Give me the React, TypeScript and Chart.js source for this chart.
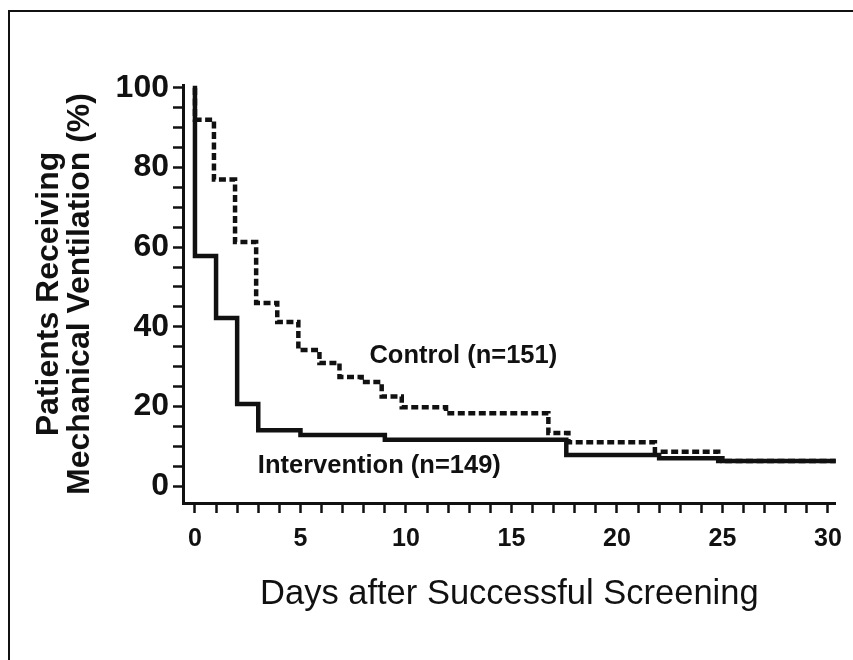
import React, { useEffect, useRef } from "react";
import { Chart, registerables } from "chart.js";

Chart.register(...registerables);

// Kaplan-Meier style step data (day, % still ventilated)
const interventionDays = [0, 0, 1, 2, 3, 5, 9, 17.6, 22, 25, 30.4];
const interventionValues = [100, 57.8, 42.2, 20.6, 14, 12.8, 11.6, 7.8, 7.0, 6.3, 6.3];

const controlDays = [0, 0, 0.9, 1.9, 2.9, 3.9, 4.9, 5.9, 6.85, 7.9, 8.85, 9.8, 11.9, 16.75, 17.7, 21.8, 24.8, 30.4];
const controlValues = [100, 92, 77, 61.3, 46, 41.2, 34.2, 30.9, 27.4, 26.1, 22.5, 19.8, 18.3, 13.3, 11, 8.6, 6.3, 6.3];

const xTickValues = [0, 1, 2, 3, 4, 5, 6, 7, 8, 9, 10, 11, 12, 13, 14, 15, 16, 17, 18, 19, 20, 21, 22, 23, 24, 25, 26, 27, 28, 29, 30];
const xLabelEvery = 5;
const yTickValues = [0, 5, 10, 15, 20, 25, 30, 35, 40, 45, 50, 55, 60, 65, 70, 75, 80, 85, 90, 95, 100];
const yLabelEvery = 20;

const annotationTexts = ["Control (n=151)", "Intervention (n=149)"];
const annotationX = [8.27, 2.98];
const annotationY = [32.7, 5.0];

const FONT = "'Liberation Sans', Arial, Helvetica, sans-serif";
const INK = "#111";

const annotationPlugin = {
  id: "annotations",
  afterDatasetsDraw(chart: any) {
    const { ctx, scales } = chart;
    ctx.save();
    ctx.fillStyle = INK;
    ctx.font = `bold 25.5px ${FONT}`;
    ctx.textAlign = "left";
    ctx.textBaseline = "middle";
    annotationTexts.forEach((t, i) => {
      ctx.fillText(t, scales.x.getPixelForValue(annotationX[i]), scales.y.getPixelForValue(annotationY[i]));
    });
    ctx.restore();
  },
};

export default function App() {
  const ref = useRef<HTMLCanvasElement | null>(null);
  useEffect(() => {
    if (!ref.current) return;
    const chart = new Chart(ref.current, {
      type: "line",
      data: {
        datasets: [
          {
            label: "Intervention (n=149)",
            data: interventionDays.map((d, i) => ({ x: d, y: interventionValues[i] })),
            borderColor: INK,
            borderWidth: 4.5,
            stepped: "before",
            pointRadius: 0,
            fill: false,
            borderCapStyle: "square",
            borderJoinStyle: "miter",
          },
          {
            label: "Control (n=151)",
            data: controlDays.map((d, i) => ({ x: d, y: controlValues[i] })),
            borderColor: INK,
            borderWidth: 4.5,
            borderDash: [7, 3.5],
            stepped: "before",
            pointRadius: 0,
            fill: false,
          },
        ],
      },
      options: {
        animation: false,
        responsive: false,
        maintainAspectRatio: false,
        layout: { padding: { left: 0, top: 85, right: 15, bottom: 0 } },
        plugins: { legend: { display: false }, tooltip: { enabled: false } },
        scales: {
          x: {
            type: "linear",
            min: -0.567,
            max: 30.37,
            afterFit: (s: any) => { s.height = 157; },
            afterBuildTicks: (s: any) => { s.ticks = xTickValues.map((v) => ({ value: v })); },
            border: { display: true, color: INK, width: 3 },
            grid: { drawOnChartArea: false, drawTicks: true, tickLength: 10, tickWidth: 2.5, tickColor: INK, color: INK },
            ticks: {
              autoSkip: false,
              maxRotation: 0,
              padding: 11,
              color: INK,
              font: { family: FONT, size: 25, weight: "bold" },
              callback: (v: any) => (Number(v) % xLabelEvery === 0 ? String(v) : ""),
            },
            title: {
              display: true,
              text: "Days after Successful Screening",
              color: INK,
              font: { family: FONT, size: 34.5, weight: "normal", lineHeight: 1.2 },
              padding: { top: 0, bottom: 45 },
            },
          },
          y: {
            type: "linear",
            min: -4.27,
            max: 100.75,
            afterFit: (s: any) => { s.width = 183; },
            afterBuildTicks: (s: any) => { s.ticks = yTickValues.map((v) => ({ value: v })); },
            border: { display: true, color: INK, width: 3 },
            grid: { drawOnChartArea: false, drawTicks: true, tickLength: 10, tickWidth: 2.5, tickColor: INK, color: INK },
            ticks: {
              autoSkip: false,
              padding: 4,
              color: INK,
              font: { family: FONT, size: 32, weight: "bold" },
              callback: (v: any) => (Number(v) % yLabelEvery === 0 ? String(v) : ""),
            },
            title: {
              display: true,
              text: ["Patients Receiving", "Mechanical Ventilation (%)"],
              color: INK,
              font: { family: FONT, size: 32, weight: "bold", lineHeight: 0.98 },
              padding: { top: 33, bottom: 0 },
            },
          },
        },
      },
      plugins: [annotationPlugin],
    } as any);
    return () => chart.destroy();
  }, []);

  return (
    <div style={{ position: "relative", width: 853, height: 660, background: "#fff", overflow: "hidden" }}>
      <style>{`html,body{margin:0;padding:0;overflow:hidden;background:#fff}`}</style>
      <canvas ref={ref} width={853} height={660} style={{ position: "absolute", left: 0, top: 0, width: 853, height: 660 }} />
      <div
        style={{
          position: "absolute",
          left: 8,
          top: 10,
          width: 845,
          height: 650,
          borderTop: "2.5px solid #111",
          borderLeft: "2px solid #111",
          boxSizing: "border-box",
          pointerEvents: "none",
        }}
      />
    </div>
  );
}
